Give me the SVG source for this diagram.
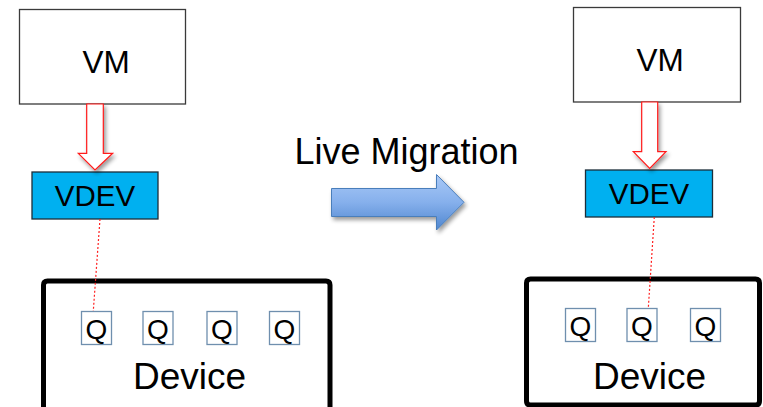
<svg xmlns="http://www.w3.org/2000/svg" width="763" height="407" viewBox="0 0 763 407">
  <defs>
    <style>
      text { font-family: "Liberation Sans", Arial, sans-serif; fill: #000; text-anchor: middle; }
      .vm { fill: #fff; stroke: #3a3a3a; stroke-width: 1.3; }
      .vdev { fill: #00b0f0; stroke: #1c2e3a; stroke-width: 1.3; }
      .dev { fill: #fff; stroke: #000; stroke-width: 5; }
      .q { fill: #fff; stroke: #6f8fae; stroke-width: 1.3; }
      .down { fill: #fff; stroke: #ff1a1a; stroke-width: 1.2; }
      .link { fill: none; stroke: #ff2020; stroke-width: 1.2; stroke-dasharray: 2 2; }
      .t-vm { font-size: 31.5px; }
      .t-vdev { font-size: 29.5px; }
      .t-q { font-size: 28px; }
      .t-dev { font-size: 37px; }
      .t-mig { font-size: 36px; }
    </style>
    <linearGradient id="blueFill" x1="0" y1="0" x2="0" y2="1">
      <stop offset="0" stop-color="#a9c9f7"/>
      <stop offset="0.5" stop-color="#86b0ec"/>
      <stop offset="1" stop-color="#4f86cf"/>
    </linearGradient>
    <filter id="shade" x="-20%" y="-20%" width="150%" height="150%">
      <feGaussianBlur in="SourceAlpha" stdDeviation="2"/>
      <feOffset dx="2" dy="3" result="b"/>
      <feComponentTransfer><feFuncA type="linear" slope="0.4"/></feComponentTransfer>
      <feMerge><feMergeNode/><feMergeNode in="SourceGraphic"/></feMerge>
    </filter>
  </defs>

  <!-- source host -->
  <g id="vm-left">
    <rect class="vm" x="19.5" y="9.5" width="166" height="94.5"/>
    <text class="t-vm" x="106" y="72.5">VM</text>
  </g>
  <g id="vdev-left">
    <rect class="vdev" x="32" y="172" width="126" height="47"/>
    <text class="t-vdev" x="95" y="206">VDEV</text>
  </g>
  <g id="device-left">
    <path class="dev" d="M43.5 420 V285 Q43.5 281 47.5 281 H326 Q330 281 330 285 V420"/>
    <rect class="q" x="81.5" y="311.5" width="30" height="33"/>
    <text class="t-q" x="96.5" y="338.5">Q</text>
    <rect class="q" x="143" y="311.5" width="30" height="33"/>
    <text class="t-q" x="158" y="338.5">Q</text>
    <rect class="q" x="207" y="311.5" width="30" height="33"/>
    <text class="t-q" x="222" y="338.5">Q</text>
    <rect class="q" x="269.5" y="311.5" width="30" height="33"/>
    <text class="t-q" x="284.5" y="338.5">Q</text>
    <text class="t-dev" x="189.5" y="389">Device</text>
  </g>

  <!-- destination host -->
  <g id="vm-right">
    <rect class="vm" x="573.5" y="7.5" width="167" height="94.5"/>
    <text class="t-vm" x="660" y="70.5">VM</text>
  </g>
  <g id="vdev-right">
    <rect class="vdev" x="585.5" y="170" width="127" height="47"/>
    <text class="t-vdev" x="649" y="204">VDEV</text>
  </g>
  <g id="device-right">
    <path class="dev" d="M526.5 401 V283 Q526.5 279 530.5 279 H755.5 Q759.5 279 759.5 283 V401 Q759.5 405 755.5 405 H530.5 Q526.5 405 526.5 401 Z"/>
    <rect class="q" x="565.5" y="308.5" width="30" height="33"/>
    <text class="t-q" x="580.5" y="335.5">Q</text>
    <rect class="q" x="627" y="308.5" width="30" height="33"/>
    <text class="t-q" x="642" y="335.5">Q</text>
    <rect class="q" x="690.5" y="308.5" width="30" height="33"/>
    <text class="t-q" x="705.5" y="335.5">Q</text>
    <text class="t-dev" x="649.5" y="388.5">Device</text>
  </g>

  <!-- migration label and arrow -->
  <g id="migration">
    <text class="t-mig" x="406.5" y="164">Live Migration</text>
    <path d="M331.5 188.5 H436.5 V174.5 L464 202.3 L436.5 230 V216.5 H331.5 Z" fill="url(#blueFill)" stroke="#4a7ebb" stroke-width="1" filter="url(#shade)"/>
  </g>

  <!-- connectors -->
  <g id="connectors">
    <path class="down" d="M86.7 104 H103.3 V153.3 H112.7 L95 170 L78.3 153.3 H86.7 Z" filter="url(#shade)"/>
    <path class="down" d="M641.7 102 H657.7 V151.7 H666 L649.7 168.3 L633.3 151.7 H641.7 Z" filter="url(#shade)"/>
    <line class="link" x1="100" y1="219" x2="93.3" y2="311"/>
    <line class="link" x1="654.3" y1="217" x2="648.3" y2="308.5"/>
  </g>
</svg>
